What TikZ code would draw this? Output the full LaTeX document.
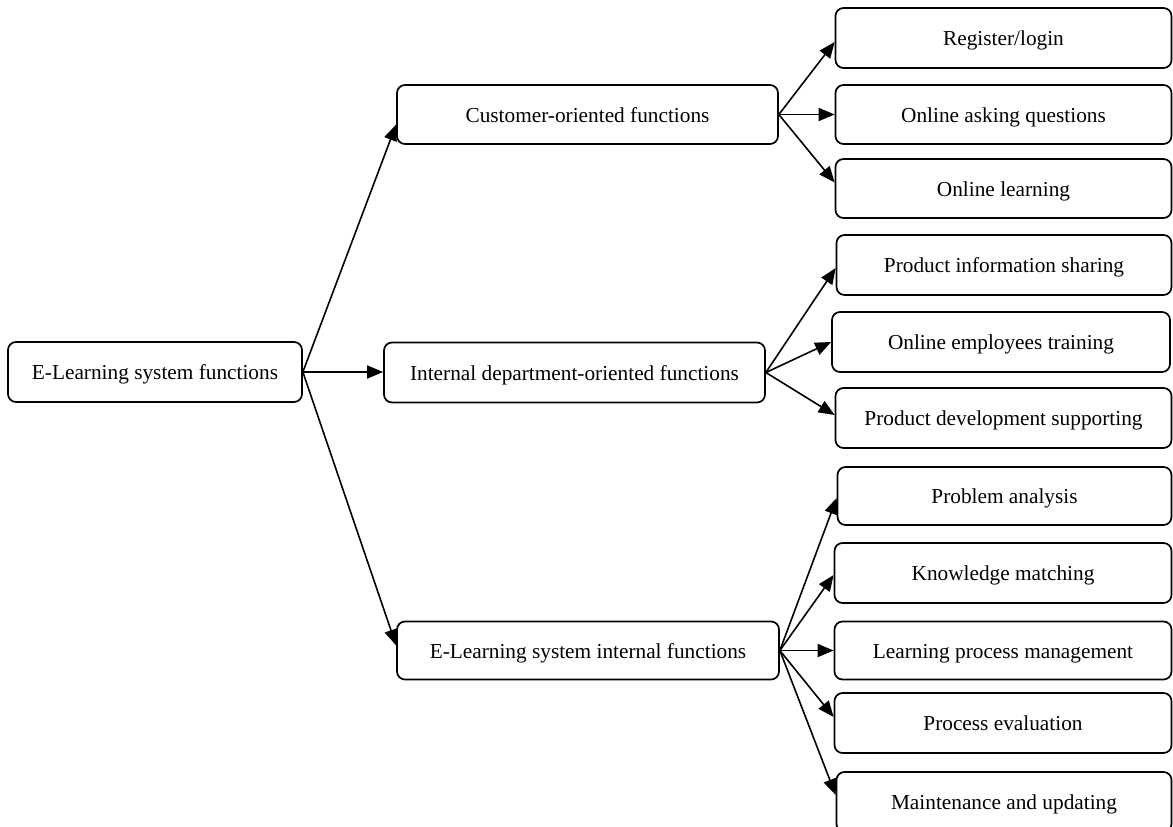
\documentclass[tikz,border=0pt]{standalone}
\usepackage{fontspec}
\setmainfont{Liberation Serif}
\usetikzlibrary{arrows.meta,calc}
\tikzset{
  box/.style={draw, rounded corners=8pt, line width=1.7pt, inner sep=0pt,
    minimum height=60pt, font=\fontsize{21.3}{25}\selectfont,
    text height=19.5pt, text depth=4.5pt},
  arr/.style={line width=1.6pt, -{Triangle[length=16pt,width=13pt]}}
}
\begin{document}
\begin{tikzpicture}[x=1pt,y=-1pt]
\useasboundingbox (0,0) rectangle (1173,827);
\clip (0,0) rectangle (1173,827);
% level 0
\node[box, minimum width=294pt] (root) at (155,372) {E-Learning system functions};
% level 1
\node[box, minimum width=381pt, minimum height=59pt] (cust) at (587.5,114.5) {Customer-oriented functions};
\node[box, minimum width=381pt] (intd) at (574.5,372.5) {Internal department-oriented functions};
\node[box, minimum width=382pt, minimum height=58pt] (eli) at (588,650.5) {E-Learning system internal functions};
% level 2
\node[box, minimum width=336pt] (reg) at (1003.5,38) {Register/login};
\node[box, minimum width=336pt, minimum height=59pt] (ask) at (1003.5,114.5) {Online asking questions};
\node[box, minimum width=336pt, minimum height=59pt] (olearn) at (1003.5,188.5) {Online learning};
\node[box, minimum width=335pt] (pinfo) at (1004,265) {Product information sharing};
\node[box, minimum width=338pt] (emp) at (1001,342) {Online employees training};
\node[box, minimum width=336pt] (pdev) at (1003.5,418) {Product development supporting};
\node[box, minimum width=334pt, minimum height=58pt] (prob) at (1004.5,496) {Problem analysis};
\node[box, minimum width=337pt] (know) at (1003,573) {Knowledge matching};
\node[box, minimum width=337pt, minimum height=58pt] (lpm) at (1003,650.5) {Learning process management};
\node[box, minimum width=337pt] (peval) at (1003,723) {Process evaluation};
\node[box, minimum width=335pt] (maint) at (1004,802) {Maintenance and updating};
% connectors
\draw[arr] (root.east) -- ($(cust.west)+(0,10)$);
\draw[arr] (root.east) -- (root.east -| intd.west);
\draw[arr] (root.east) -- ($(eli.west)+(0,-5)$);
\draw[arr] (cust.east) -- ($(reg.west)+(0,4)$);
\draw[arr] (cust.east) -- (cust.east -| ask.west);
\draw[arr] (cust.east) -- ($(olearn.west)+(0,-6)$);
\draw[arr] (intd.east) -- ($(pinfo.west)+(0,3)$);
\draw[arr] (intd.east) -- (emp.west);
\draw[arr] (intd.east) -- ($(pdev.west)+(0,-3)$);
\draw[arr] (eli.east) -- ($(prob.west)+(0,2)$);
\draw[arr] (eli.east) -- ($(know.west)+(0,2)$);
\draw[arr] (eli.east) -- (eli.east -| lpm.west);
\draw[arr] (eli.east) -- ($(peval.west)+(0,-6)$);
\draw[arr] (eli.east) -- ($(maint.west)+(0,-7)$);
\end{tikzpicture}
\end{document}
